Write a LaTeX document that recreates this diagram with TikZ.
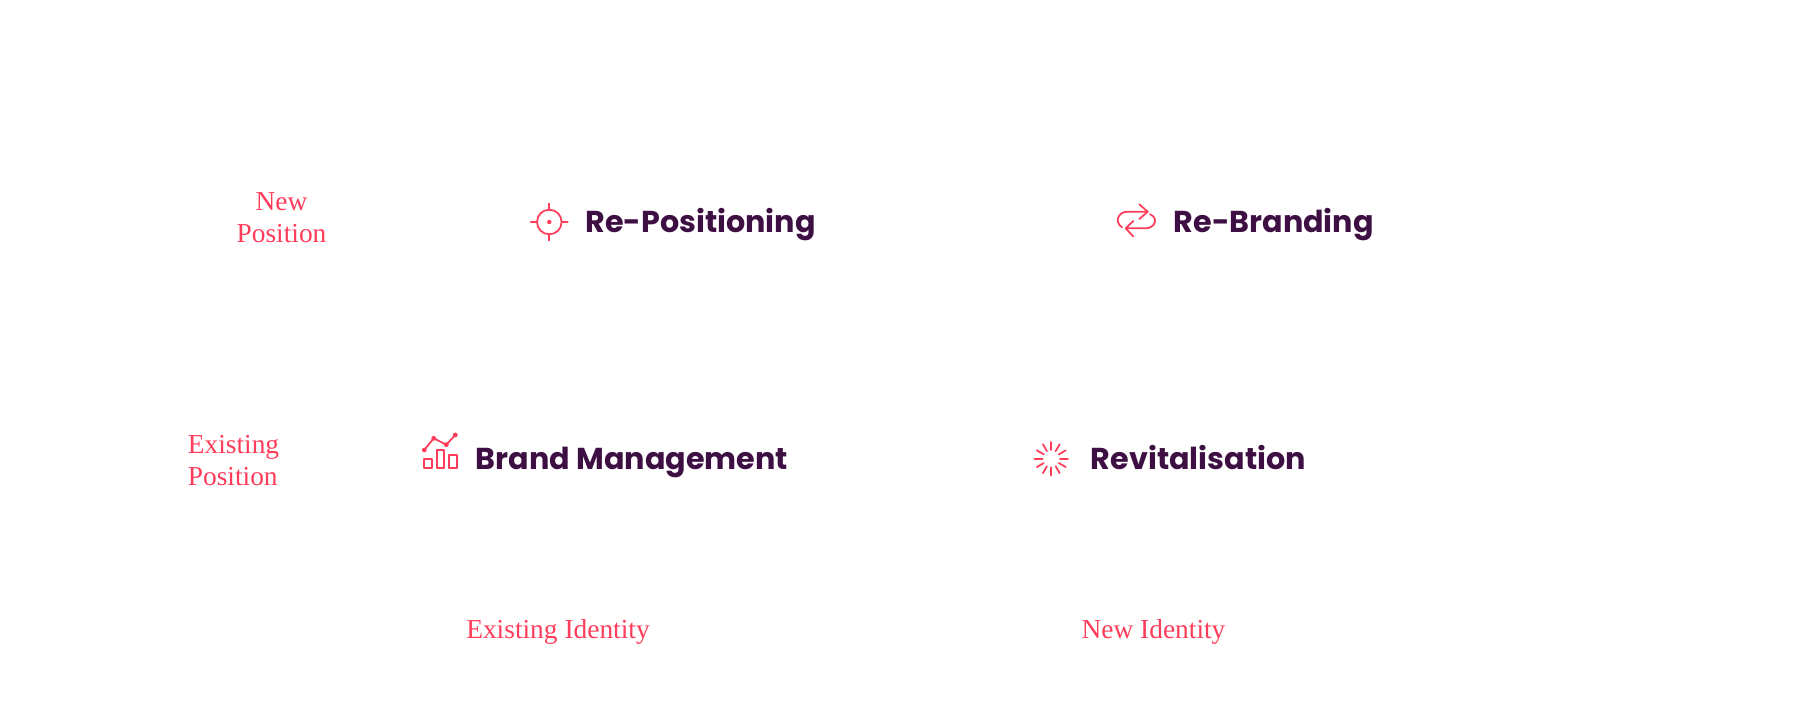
\documentclass[tikz,border=0pt]{standalone}
\usepackage{fontspec}
\setmainfont{Liberation Serif}
\newfontfamily\headfont{Poppins}
\definecolor{axispink}{HTML}{FF3D5A}
\definecolor{cellplum}{HTML}{3D0F42}
\tikzset{
  axislabel/.style={inner sep=0pt,text=axispink,font=\fontsize{15.6}{18.2}\selectfont},
  celllabel/.style={inner sep=0pt,anchor=base west,text=cellplum,font=\headfont\bfseries\fontsize{17.2}{20}\selectfont},
  iconline/.style={draw=axispink,line width=1pt,line cap=round,line join=round}
}
\begin{document}
\begin{tikzpicture}[x=0.02cm,y=0.02cm]
    \useasboundingbox (0,0) rectangle (1800,-719);
    % axis labels
    \node [axislabel,align=center] (newpos) at (281.5,-218) {New\\Position};
    \node [axislabel,align=left] (oldpos) at (233.5,-461) {Existing\\Position};
    \node [axislabel,anchor=base] (oldid) at (558,-639) {Existing Identity};
    \node [axislabel,anchor=base] (newid) at (1153.5,-639) {New Identity};
    % cell labels
    \node [celllabel] (repos) at (585,-233) {Re-Positioning};
    \node [celllabel] (rebrand) at (1173.5,-233) {Re-Branding};
    \node [celllabel] (manage) at (475.5,-470) {Brand Management};
    \node [celllabel] (revital) at (1090.5,-470) {Revitalisation};
    % target icon
    \draw [iconline] (549.3,-222) circle (12.3);
    \fill [axispink] (549.3,-222) circle (2.2);
    \draw [iconline] (549.3,-203.5) -- (549.3,-209.7);
    \draw [iconline] (549.3,-240.5) -- (549.3,-234.3);
    \draw [iconline] (530.8,-222) -- (537,-222);
    \draw [iconline] (567.8,-222) -- (561.6,-222);
    % loop icon
    \draw [iconline] (1122,-227.3) .. controls (1114,-222) and (1118,-211.7) .. (1127.7,-211.7) -- (1147.7,-211.7);
    \draw [iconline] (1139.3,-204.3) -- (1147.7,-211.7) -- (1139.3,-219);
    \draw [iconline] (1150,-214.3) .. controls (1159,-218) and (1155,-228.3) .. (1145.7,-228.3) -- (1125.7,-228.3);
    \draw [iconline] (1133.3,-221) -- (1125.7,-228.3) -- (1133.3,-236.5);
    % chart icon
    \draw [iconline] (424.3,-450) -- (433.7,-438.3) -- (446.3,-444.7) -- (455.3,-435);
    \foreach \px/\py in {424.3/450,433.7/438.3,446.3/444.7,455.3/435}
      \fill [axispink] (\px,-\py) circle (2.4);
    \draw [iconline] (424.3,-459) rectangle (431.7,-467.7);
    \draw [iconline] (437,-450) rectangle (444.3,-467.7);
    \draw [iconline] (448.7,-455) rectangle (456.7,-467.7);
    % burst icon
    \foreach \ang in {0,30,...,330}
      \draw [iconline] (1051.3,-458.7) ++(\ang:8.7) -- ++(\ang:8);
\end{tikzpicture}
\end{document}
